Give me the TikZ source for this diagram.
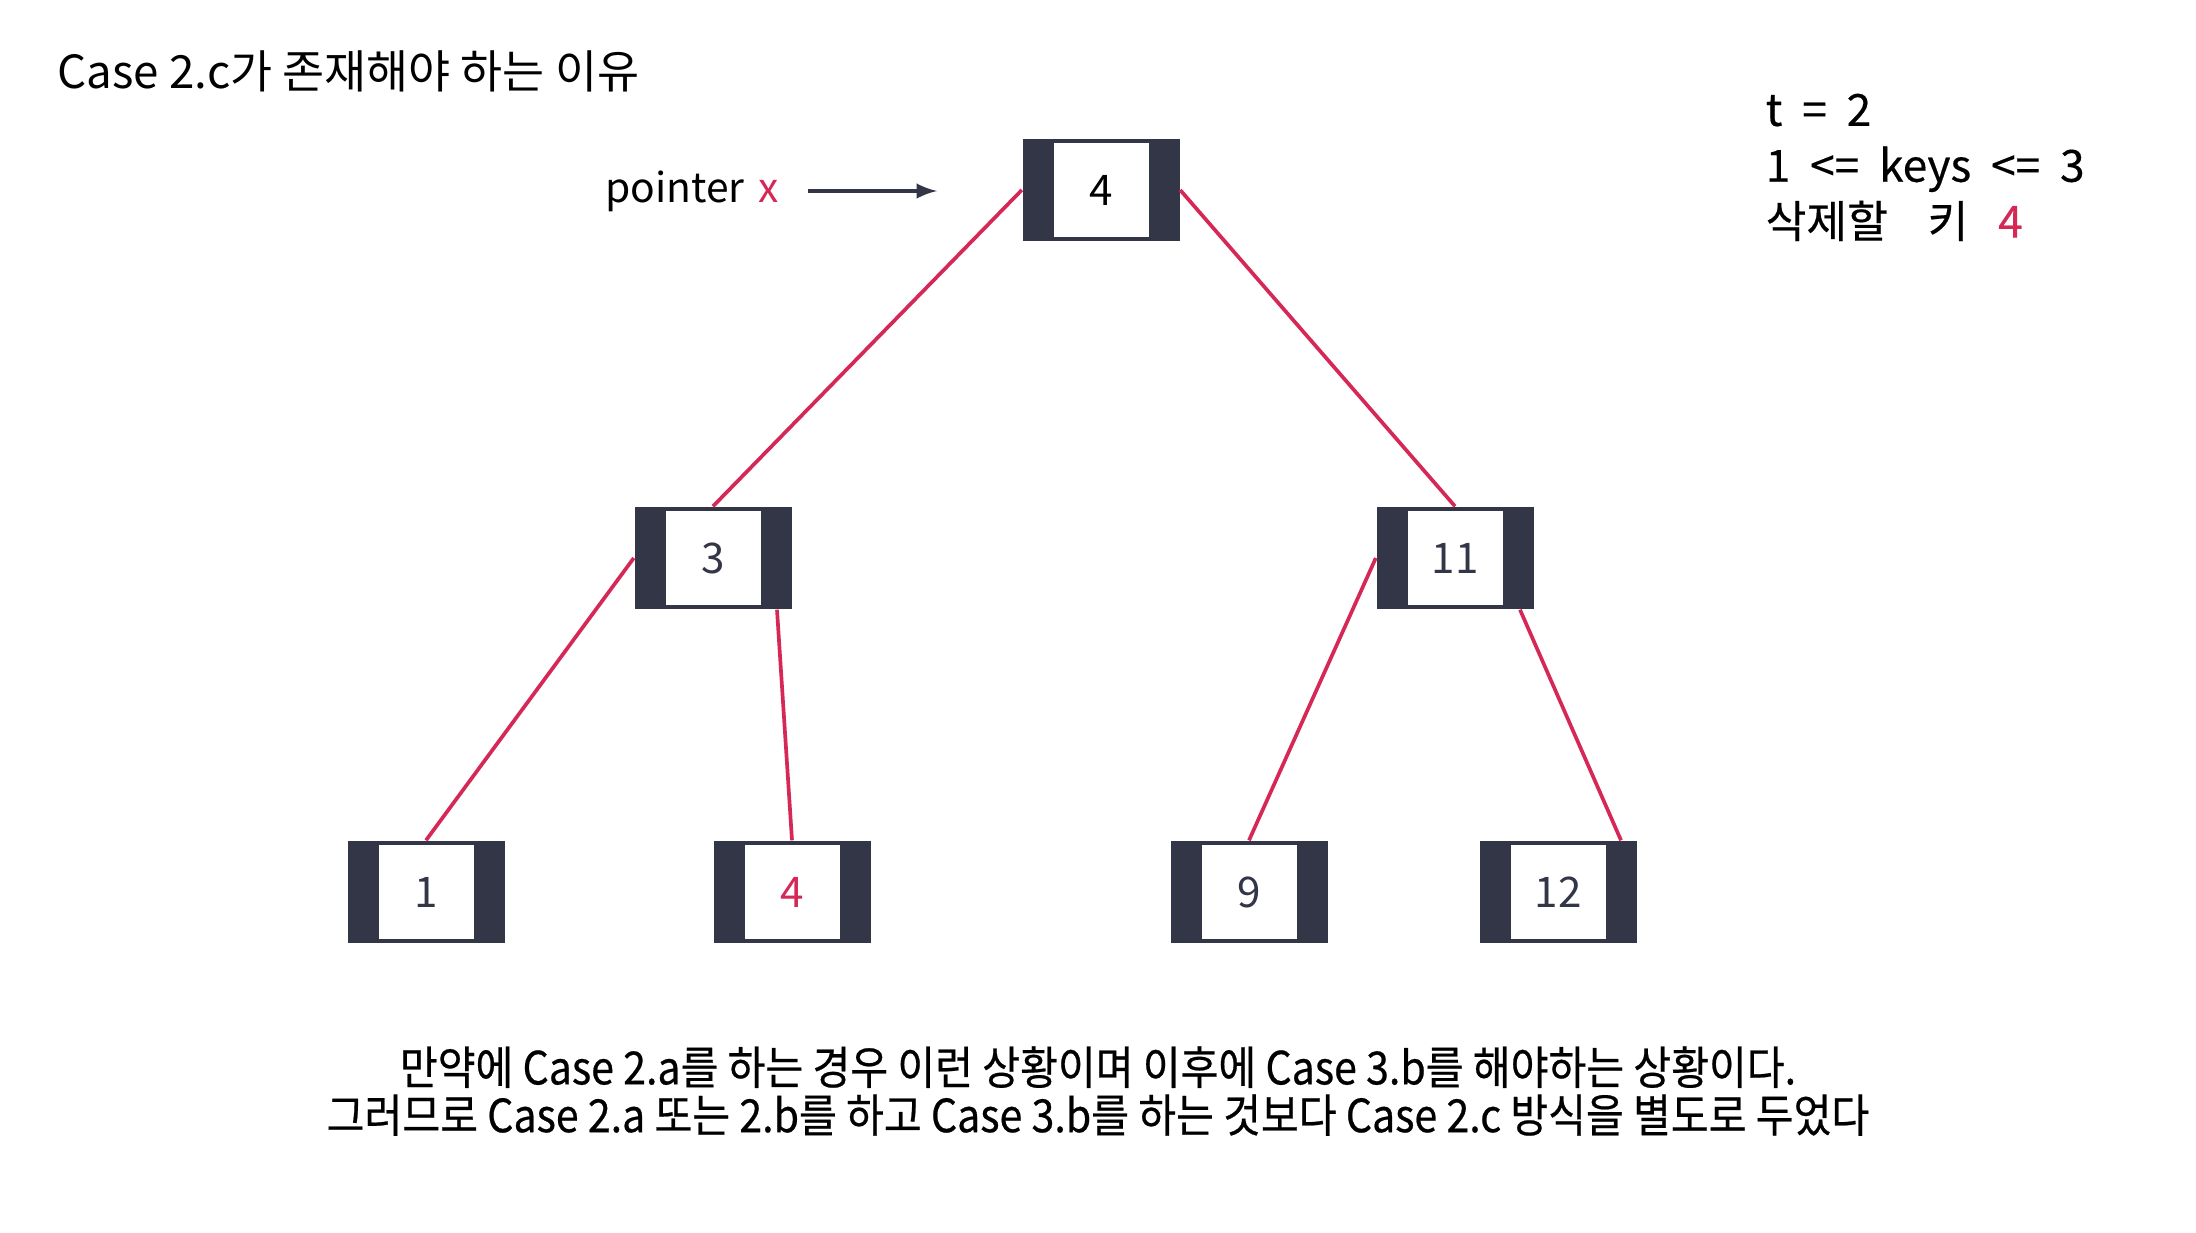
\documentclass[tikz,border=0pt]{standalone}
\usepackage{fontspec}
\setmainfont{Noto Sans CJK KR}
\newfontfamily\condfont[FakeStretch=0.9,FakeBold=0.5]{Noto Sans CJK KR}
\newfontfamily\infofont[FakeBold=0.4]{Noto Sans CJK KR}
\usepackage{tikz}
\usetikzlibrary{positioning}
\usetikzlibrary{arrows}
\definecolor{navy}{RGB}{51,54,71}
\definecolor{crimson}{RGB}{214,40,87}

\begin{document}
\begin{tikzpicture}
\tikzstyle{key}=[rectangle, minimum width=1.57cm, minimum height=1.02cm, fill=navy, text=navy, font=\fontsize{12}{14}\selectfont, path picture={\fill[white] ([xshift=0.31cm,yshift=0.04cm]path picture bounding box.south west) rectangle ([xshift=-0.31cm,yshift=-0.04cm]path picture bounding box.north east);}]
\tikzstyle{connect}=[draw=crimson, line width=1.05pt]
\tikzstyle{pointer}=[-latex, draw=navy, line width=1pt]
\tikzstyle{txt}=[inner sep=0, font=\fontsize{13}{15}\selectfont]
\useasboundingbox (0,0) rectangle (21.96,-12.32);
	\node[txt, anchor=west] (title) at (0.57,-0.71) {Case 2.c가 존재해야 하는 이유};
	\node[txt, anchor=north west, align=left, font=\infofont\fontsize{12.6}{15.9}\selectfont] (info) at (17.65,-0.93) {t~~=~~2\\1~~<=~~keys~~<=~~3\\삭제할~~~~키~~~\textcolor{crimson}{4}};
	\node[txt, anchor=east, inner xsep=0.28cm, font=\fontsize{11.6}{14}\selectfont] (ptr) at (8.08,-1.91) {pointer\hspace{0.35em}\textcolor{crimson}{x}};
	\coordinate (tip) at (9.37,-1.91);

	\node[key, text=black] (r_4) at (11.01,-1.90) {4};
	\node[key] (k_3) at (7.13,-5.58) {3};
	\node[key] (k_11) at (14.55,-5.58) {11};
	\node[key] (l_1) at (4.26,-8.92) {1};
	\node[key, text=crimson] (l_4) at (7.92,-8.92) {4};
	\node[key] (l_9) at (12.49,-8.92) {9};
	\node[key] (l_12) at (15.58,-8.92) {12};

	\node[txt, align=center, font=\condfont\fontsize{13}{13.6}\selectfont] (note) at (10.98,-10.91) {만약에 Case 2.a를 하는 경우 이런 상황이며 이후에 Case 3.b를 해야하는 상황이다.\\그러므로 Case 2.a 또는 2.b를 하고 Case 3.b를 하는 것보다 Case 2.c 방식을 별도로 두었다};

	\path
		(ptr) edge [pointer] (tip)
		(r_4.west) edge [connect] (k_3.north)
		(r_4.east) edge [connect] (k_11.north)
		(k_3.west) edge [connect] (l_1.north)
		([xshift=0.64cm]k_3.south) edge [connect] (l_4.north)
		(k_11.west) edge [connect] (l_9.north)
		([xshift=0.65cm]k_11.south) edge [connect] ([xshift=0.63cm]l_12.north);

\end{tikzpicture}
\end{document}
